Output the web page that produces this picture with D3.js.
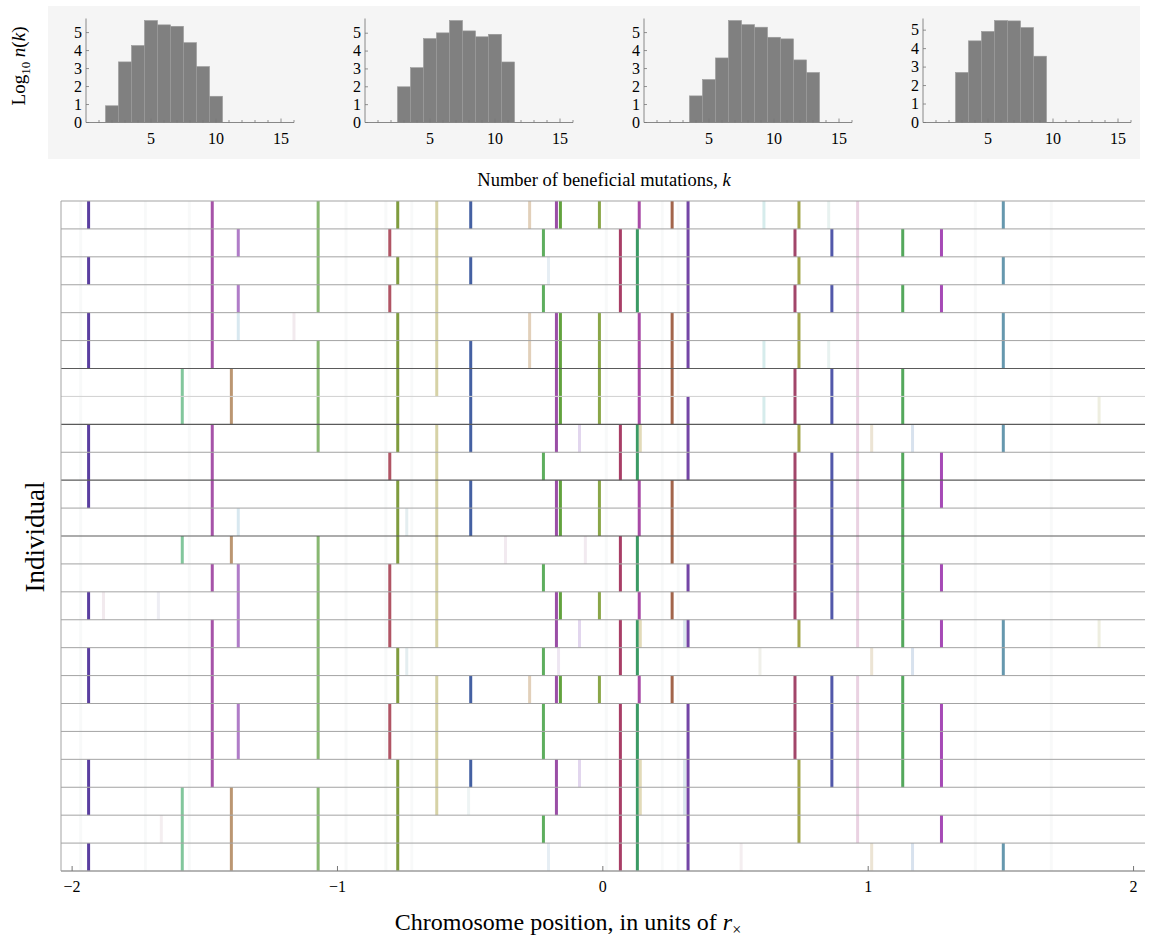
<!DOCTYPE html>
<html>
<head>
<meta charset="utf-8">
<script src="https://cdn.jsdelivr.net/npm/d3@7"></script>
<style>
  body { margin: 0; background: #fff; }
  svg { display: block; font-family: "Liberation Serif", "DejaVu Serif", serif; }
</style>
</head>
<body>
<svg width="1161" height="939"></svg>
<script>
let width = 1161;
let height = 939;

// histograms: log10 n(k) for each panel, first k of each series
let histStartK = [2, 3, 4, 3];
let hist1 = [0.93, 3.37, 4.28, 5.67, 5.43, 5.35, 4.44, 3.11, 1.46];
let hist2 = [2.0, 3.07, 4.7, 5.02, 5.71, 5.13, 4.8, 4.94, 3.39];
let hist3 = [1.48, 2.39, 3.59, 5.67, 5.44, 5.3, 4.74, 4.65, 3.48, 2.78];
let hist4 = [2.71, 4.42, 4.93, 5.52, 5.5, 5.14, 3.59];
let histTicksX = [5, 10, 15];
let histTicksY = [0, 1, 2, 3, 4, 5];

// mutation sites (chromosome position, units of r_x)
let siteIds = ["a", "b", "c", "d", "e", "f", "g", "h", "i", "j", "k", "l", "m", "n",
    "o", "p", "q", "r", "s", "t", "u", "v", "w", "x", "y", "z", "aa",
    "f1", "f2", "f3", "f4", "f5", "f6", "f7", "f8", "f9", "f10", "f11", "f12",
    "f13", "f14", "f15", "f16", "f17", "f18", "f19", "f20", "f21"];
let sitePositions = [-1.936, -1.583, -1.470, -1.398, -1.372, -1.071, -0.801, -0.771,
    -0.624, -0.496, -0.274, -0.222, -0.173, -0.158, -0.011, 0.068, 0.132, 0.139,
    0.263, 0.323, 0.726, 0.741, 0.865, 0.962, 1.132, 1.278, 1.511,
    0.609, 0.853, -0.203, -1.162, -1.372, -0.086, 0.143, 1.015, 1.169, 1.872, -0.737,
    -0.365, -0.064, -1.880, -1.673, 0.310, 0.594, -0.504, -1.662, 0.523, -0.165];
let siteColors = ["#5a3ea0", "#82c69c", "#a653a8", "#bb9672", "#b07cc8", "#88b872",
    "#b05464", "#7f9c3e", "#d6d2a6", "#4460a2", "#e2d0ba", "#5eae5e", "#9a4ea6",
    "#62a23e", "#8aa648", "#a83e66", "#3a9a64", "#a84aa6", "#a2644a", "#7446a6",
    "#a2466a", "#a2a64a", "#5258aa", "#ead2e2", "#54a85c", "#a64ab6", "#6698ae",
    "#d6ecec", "#e8f2f0", "#e6eef4", "#f2eaee", "#d8e8f0", "#e2d6ee", "#e2dab8",
    "#ece4d4", "#d8e2ee", "#eeeee0", "#e4eef0", "#f2eaf0", "#f2eaf0", "#f2eaee",
    "#eeeef4", "#dce8ee", "#f0f0ea", "#eef4f4", "#f4eef0", "#f4eef0", "#eee6f2"];

// which sites each individual carries (top row first)
let individuals = [
    "a c f h i j k m n o r s t f1 v f2 x aa",
    "c e f g i l p q t u w x y z",
    "a c f h i j f3 p q t v x aa",
    "c e f g i l p q t u w x y z",
    "a c f5 f4 h i k m n o r s t v x aa",
    "a c f h i j k m n o r s t f1 v f2 x aa",
    "b d f h i j m n o r s u w x y",
    "b d f h j m n o r s t f1 u w x y f10",
    "a c f h i j m f6 p q f7 t v x f8 f9 aa",
    "a c g i l p q t u w x y z",
    "a c h i j m n o r s u w x y z",
    "c f5 h f11 i j m n o r s u w x y",
    "b d f h i f12 f13 p q s u w x y",
    "c e f g i l p q t u w x y z",
    "a f14 f15 e f g i m n o r s u w x y",
    "c e f g i m f6 p q f7 f16 t v x y z aa f10",
    "a c f h f11 l f21 p q f17 f8 f9 aa",
    "a c f h i j k m n o r s u w x y",
    "c e f g i l p q t u w x y z",
    "c e f g i l p q t u w x y z",
    "a c h i j m f6 p q f7 f16 t v w x y z",
    "a b d f h i f18 m p q f7 f16 t v x",
    "f19 b d f h l p q t v x z",
    "a b d f h f3 p q t f20 f8 f9 aa"
];

// very faint sites seen across the whole population
let backgroundSites = [-1.966, -1.722, -1.556, -0.966, -0.816, -0.718, 0.015, 0.226, 0.286, 1.406, 1.692];
let groupBreaks = [6, 8, 10, 12];   // darker separators
let lightBreaks = [7];
let mainTicks = [-2, -1, 0, 1, 2];

let svg = d3.select("svg");

// ---------- top histograms ----------
svg.append("rect")
    .attr("x", 48).attr("y", 6)
    .attr("width", 1092).attr("height", 153)
    .attr("fill", "#f5f5f5");

let histData = [hist1, hist2, hist3, hist4];
let panelLeft = [86, 365, 644, 923];

histData.forEach(function(vals, p) {
    let g = svg.append("g");
    let x = d3.scaleLinear().domain([0, 16]).range([panelLeft[p], panelLeft[p] + 208]);
    let y = d3.scaleLinear().domain([0, d3.max(vals) * 1.02]).range([122.5, 18.5]);

    let bars = vals.map((v, i) => ({k: histStartK[p] + i, v: v}));
    g.selectAll("rect.bar")
        .data(bars)
        .join("rect")
        .attr("class", "bar")
        .attr("x", d => x(d.k - 0.5))
        .attr("width", d => x(d.k + 0.5) - x(d.k - 0.5))
        .attr("y", d => y(d.v))
        .attr("height", d => y(0) - y(d.v))
        .attr("fill", "#808080")
        .attr("stroke", "#9a9a9a")
        .attr("stroke-width", 0.6);

    // x axis with minor ticks at each integer
    g.append("line")
        .attr("x1", x(0)).attr("x2", x(16))
        .attr("y1", y(0)).attr("y2", y(0))
        .attr("stroke", "#888").attr("stroke-width", 1);
    g.selectAll("line.xt")
        .data(d3.range(1, 17))
        .join("line")
        .attr("class", "xt")
        .attr("x1", d => x(d)).attr("x2", d => x(d))
        .attr("y1", y(0)).attr("y2", d => y(0) - (d % 5 == 0 ? 4 : 2.5))
        .attr("stroke", "#777").attr("stroke-width", 0.8);
    g.selectAll("text.xl")
        .data(histTicksX)
        .join("text")
        .attr("class", "xl")
        .attr("x", d => x(d)).attr("y", 144)
        .attr("text-anchor", "middle")
        .style("font-size", "16px")
        .text(d => d);

    // y axis
    g.append("line")
        .attr("x1", x(0)).attr("x2", x(0))
        .attr("y1", y(0)).attr("y2", 18.5)
        .attr("stroke", "#888").attr("stroke-width", 1);
    g.selectAll("line.yt")
        .data(histTicksY)
        .join("line")
        .attr("class", "yt")
        .attr("x1", x(0)).attr("x2", x(0) + 3)
        .attr("y1", d => y(d)).attr("y2", d => y(d))
        .attr("stroke", "#777").attr("stroke-width", 0.8);
    g.selectAll("text.yl")
        .data(histTicksY)
        .join("text")
        .attr("class", "yl")
        .attr("x", x(0) - 4).attr("y", d => y(d) + 5)
        .attr("text-anchor", "end")
        .style("font-size", "16px")
        .text(d => d);
});

// y label for histograms
let ylab = svg.append("text")
    .attr("transform", "translate(25,66) rotate(-90)")
    .attr("text-anchor", "middle")
    .style("font-size", "19px");
ylab.append("tspan").text("Log");
ylab.append("tspan").attr("dy", 5).style("font-size", "13px").text("10");
ylab.append("tspan").attr("dy", -5).text(" ");
ylab.append("tspan").style("font-style", "italic").text("n");
ylab.append("tspan").text("(");
ylab.append("tspan").style("font-style", "italic").text("k");
ylab.append("tspan").text(")");

let xlab = svg.append("text")
    .attr("x", 604).attr("y", 186)
    .attr("text-anchor", "middle")
    .style("font-size", "18.5px");
xlab.append("tspan").text("Number of beneficial mutations, ");
xlab.append("tspan").style("font-style", "italic").text("k");

// ---------- main chromosome plot ----------
let x = d3.scaleLinear().domain([-2.04, 2.045]).range([61, 1145]);
let y = d3.scaleBand().domain(d3.range(individuals.length)).range([201, 871]);

let siteLookup = {};
siteIds.forEach((id, i) => siteLookup[id] = {pos: sitePositions[i], color: siteColors[i]});

// faint background stripes
svg.append("g")
    .selectAll("rect")
    .data(backgroundSites)
    .join("rect")
    .attr("x", d => x(d) - 1.5)
    .attr("width", 3)
    .attr("y", y(0))
    .attr("height", y.range()[1] - y(0))
    .attr("fill", "#eef0f0")
    .attr("opacity", 0.4);

let marks = [];
individuals.forEach(function(row, r) {
    row.split(" ").forEach(function(id) {
        marks.push({row: r, pos: siteLookup[id].pos, color: siteLookup[id].color});
    });
});

svg.append("g")
    .selectAll("rect")
    .data(marks)
    .join("rect")
    .attr("x", d => x(d.pos) - 1.5)
    .attr("width", 3)
    .attr("y", d => y(d.row))
    .attr("height", y.bandwidth())
    .attr("fill", d => d.color);

// row separators
let breaks = d3.range(individuals.length + 1);
svg.append("g")
    .selectAll("line")
    .data(breaks)
    .join("line")
    .attr("x1", 61).attr("x2", 1145)
    .attr("y1", d => 201 + d * y.step())
    .attr("y2", d => 201 + d * y.step())
    .attr("stroke", d => groupBreaks.includes(d) ? "#5a5a5a" : (lightBreaks.includes(d) ? "#d0d0d0" : "#a3a3a3"))
    .attr("stroke-width", d => groupBreaks.includes(d) ? 1.2 : 1);

svg.append("line")
    .attr("x1", 61).attr("x2", 61)
    .attr("y1", 201).attr("y2", 871)
    .attr("stroke", "#a3a3a3");

let xAxis = d3.axisBottom(x)
    .tickValues(mainTicks)
    .tickSize(-5)
    .tickPadding(10)
    .tickFormat(d => d < 0 ? "\u2212" + Math.abs(d) : d);

let xAxisTicks = svg.append("g")
    .attr("transform", `translate(0,871)`)
    .call(xAxis);
xAxisTicks.select(".domain").attr("stroke", "#999").attr("d", "M61,0H1145");
xAxisTicks.selectAll(".tick line").attr("stroke", "#777");
xAxisTicks.selectAll(".tick text")
    .style("font-family", "Liberation Serif, serif")
    .style("font-size", "16px")
    .attr("fill", "#000");

let mainX = svg.append("text")
    .attr("x", 568).attr("y", 930)
    .attr("text-anchor", "middle")
    .style("font-size", "24px");
mainX.append("tspan").text("Chromosome position, in units of ");
mainX.append("tspan").style("font-style", "italic").text("r");
mainX.append("tspan").attr("dy", 5).style("font-size", "16px").text("\u00d7");

svg.append("text")
    .attr("transform", "translate(44,537) rotate(-90)")
    .attr("text-anchor", "middle")
    .style("font-size", "27px")
    .text("Individual");
</script>
</body>
</html>
